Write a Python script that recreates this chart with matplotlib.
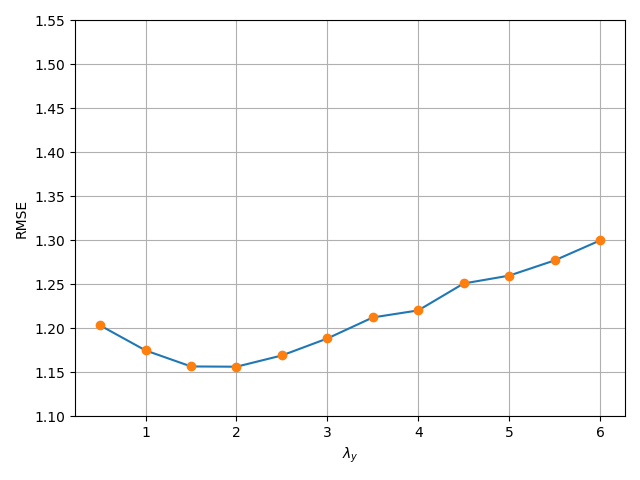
import matplotlib
matplotlib.use("Agg")
import matplotlib.pyplot as plt

# lambda_y values and RMSE
lambda_y = [0.5, 1.0, 1.5, 2.0, 2.5, 3.0, 3.5, 4.0, 4.5, 5.0, 5.5, 6.0]
rmse = [1.2034, 1.1750, 1.1568, 1.1565, 1.1693, 1.1886,
        1.2125, 1.2205, 1.2511, 1.2600, 1.2773, 1.3000]

fig, ax = plt.subplots(figsize=(6.4, 4.8), dpi=100)
ax.plot(lambda_y, rmse)
ax.plot(lambda_y, rmse, "o")
ax.set_ylim(1.10, 1.55)
ax.set_xlabel(r"$\lambda_y$")
ax.set_ylabel("RMSE")
ax.grid(True)

plt.tight_layout()
plt.savefig("out.png", dpi=100)
plt.close()
